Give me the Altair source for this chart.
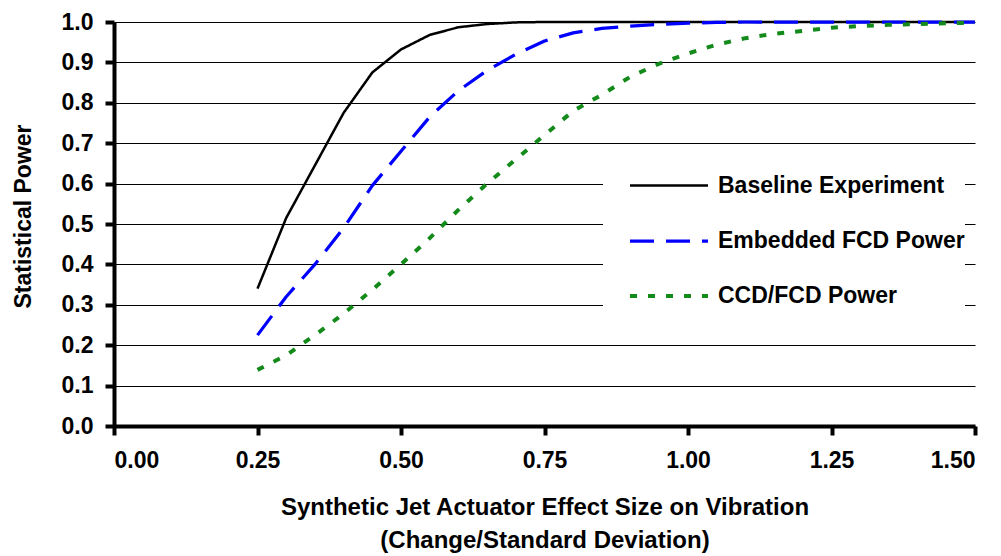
import altair as alt
import pandas as pd

# Effect size (x) values
effect = [0.25, 0.30, 0.35, 0.40, 0.45, 0.50, 0.55, 0.60, 0.65, 0.70, 0.75, 0.80, 0.85,
          0.90, 0.95, 1.00, 1.05, 1.10, 1.15, 1.20, 1.25, 1.30, 1.35, 1.40, 1.45, 1.50]

baseline = [0.34, 0.515, 0.645, 0.775, 0.875, 0.932, 0.968, 0.987, 0.995, 0.999, 1.0, 1.0, 1.0,
            1.0, 1.0, 1.0, 1.0, 1.0, 1.0, 1.0, 1.0, 1.0, 1.0, 1.0, 1.0, 1.0]
embedded = [0.225, 0.32, 0.40, 0.49, 0.595, 0.68, 0.765, 0.83, 0.88, 0.92, 0.953, 0.973, 0.984,
            0.99, 0.994, 0.997, 0.999, 1.0, 1.0, 1.0, 1.0, 1.0, 1.0, 1.0, 1.0, 1.0]
ccd = [0.139, 0.175, 0.225, 0.278, 0.337, 0.40, 0.465, 0.535, 0.60, 0.66, 0.72, 0.78, 0.82,
       0.865, 0.897, 0.922, 0.944, 0.96, 0.971, 0.978, 0.986, 0.99, 0.993, 0.995, 0.997, 0.998]

series_names = ["Baseline Experiment", "Embedded FCD Power", "CCD/FCD Power"]
series_values = [baseline, embedded, ccd]
series_colors = ["#000000", "#0000ff", "#138a1a"]
series_dashes = [[1, 0], [24, 12], [7, 11]]
series_widths = [2.5, 4, 4]

y_ticks = [0.0, 0.1, 0.2, 0.3, 0.4, 0.5, 0.6, 0.7, 0.8, 0.9, 1.0]
x_ticks = [0.0, 0.25, 0.5, 0.75, 1.0, 1.25, 1.5]

rows = []
for name, vals in zip(series_names, series_values):
    for xv, yv in zip(effect, vals):
        rows.append({"x": xv, "y": yv, "series": name})
df = pd.DataFrame(rows)

FONT = "Liberation Sans"

chart = alt.Chart(df).mark_line(strokeCap="butt", strokeJoin="round").encode(
    x=alt.X("x:Q",
            scale=alt.Scale(domain=[0, 1.5], nice=False, zero=False),
            axis=alt.Axis(values=x_ticks, format=".2f", grid=False,
                          title=["Synthetic Jet Actuator Effect Size on Vibration",
                                 "(Change/Standard Deviation)"],
                          titleLineHeight=33, titleBaseline="top", titleY=69,
                          titleFontSize=24, labelPadding=14)),
    y=alt.Y("y:Q",
            scale=alt.Scale(domain=[0, 1.0], nice=False),
            axis=alt.Axis(values=y_ticks, format=".1f", grid=True,
                          title="Statistical Power", titleAngle=-90,
                          titleBaseline="middle", titleAlign="center",
                          titleFontSize=23,
                          titleX=-91, titleY=194, labelPadding=12)),
    color=alt.Color("series:N",
                    scale=alt.Scale(domain=series_names, range=series_colors),
                    legend=alt.Legend(title=None)),
    strokeDash=alt.StrokeDash("series:N",
                              scale=alt.Scale(domain=series_names, range=series_dashes),
                              legend=alt.Legend(title=None)),
    strokeWidth=alt.StrokeWidth("series:N",
                                scale=alt.Scale(domain=series_names, range=series_widths),
                                legend=None),
    order=alt.Order("x:Q"),
).properties(
    width=861, height=404,
    autosize=alt.AutoSizeParams(type="none"),
    padding={"left": 106, "top": 14, "right": 18, "bottom": 130},
).configure_view(
    stroke=None
).configure_axis(
    labelFont=FONT, labelFontSize=23, labelFontWeight="bold", labelColor="#000000",
    titleFont=FONT, titleFontWeight="bold", titleColor="#000000",
    domainColor="#000000", domainWidth=4,
    tickColor="#000000", tickWidth=4, tickSize=9,
    gridColor="#000000", gridWidth=1, gridOpacity=1,
).configure_legend(
    orient="none", legendX=489, legendY=123,
    fillColor="#ffffff", padding=0, symbolOffset=25,
    symbolType="stroke", symbolSize=6084, symbolStrokeWidth=3.5,
    labelFont=FONT, labelFontSize=23, labelFontWeight="bold", labelColor="#000000",
    labelOffset=8, rowPadding=2, labelLimit=400,
)

chart.save("out.html", embed_options={"renderer": "svg", "actions": False})
